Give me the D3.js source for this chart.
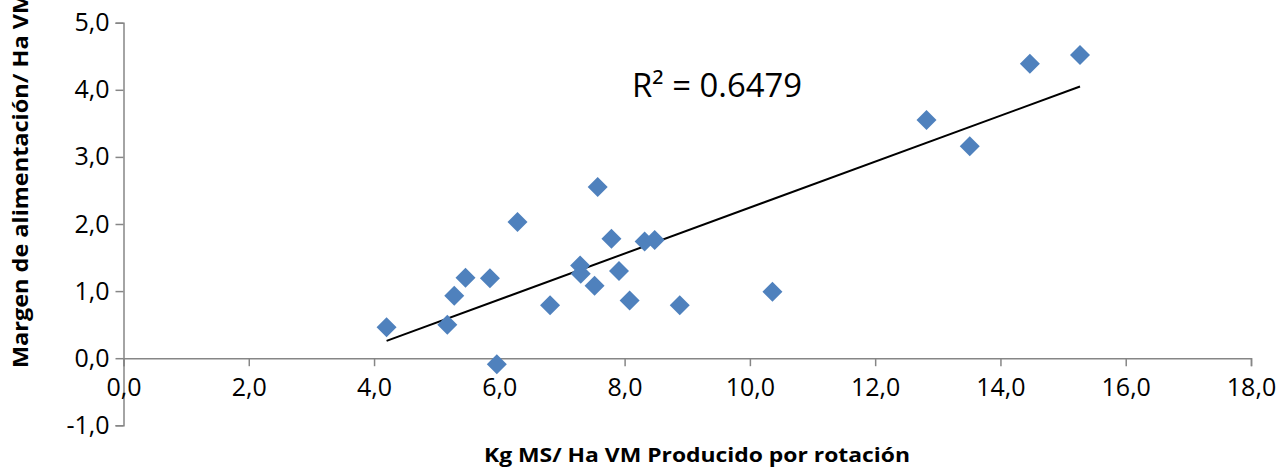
<!DOCTYPE html>
<html>
<head>
<meta charset="utf-8">
<script src="https://cdn.jsdelivr.net/npm/d3@7"></script>
<style>
  html, body { margin: 0; padding: 0; background: #fff; }
  svg { display: block; }
  .tick text { font-family: "Open Sans", "Noto Sans", sans-serif; fill: #000; }
  .title { font-family: "Open Sans", "Noto Sans", sans-serif; font-weight: bold; fill: #000; }
</style>
</head>
<body>
<svg id="chart" width="1281" height="469"></svg>
<script>
// Forage produced per rotation (Kg MS / Ha VM) vs. feeding margin
const xValues = [4.20, 5.17, 5.28, 5.46, 5.85, 6.29, 5.96, 6.81, 7.29, 7.30, 7.52, 7.57,
                 7.79, 7.91, 8.08, 8.32, 8.48, 8.88, 10.36, 12.82, 13.51, 14.47, 15.27];
const yValues = [0.46, 0.50, 0.93, 1.20, 1.19, 2.03, -0.09, 0.79, 1.38, 1.26, 1.08, 2.55,
                 1.78, 1.30, 0.86, 1.74, 1.76, 0.79, 0.99, 3.55, 3.16, 4.39, 4.52];
const xTicks = [0, 2, 4, 6, 8, 10, 12, 14, 16, 18];
const yTicks = [-1, 0, 1, 2, 3, 4, 5];
const xTitle = "Kg MS/ Ha VM Producido por rotación";
const yTitle = "Margen de alimentación/ Ha VM";
const r2Label = "R² = 0.6479";

const svg = d3.select("#chart");
const axisColor = "#868686";
const markerColor = "#4F81BD";

const x = d3.scaleLinear().domain([0, 18]).range([123.5, 1251]);
const y = d3.scaleLinear().domain([-1, 5]).range([425.3, 22.7]);

const locale = d3.formatLocale({ decimal: ",", thousands: ".", grouping: [3], currency: ["", ""], minus: "-" });
const fmt = locale.format(".1f");

// Y axis at x = 0
const gy = svg.append("g")
  .attr("transform", `translate(${x(0)},0)`)
  .call(d3.axisLeft(y).tickValues(yTicks).tickFormat(fmt).tickSizeInner(8).tickSizeOuter(8).tickPadding(6));

// X axis at y = 0
const gx = svg.append("g")
  .attr("transform", `translate(0,${y(0)})`)
  .call(d3.axisBottom(x).tickValues(xTicks).tickFormat(fmt).tickSizeInner(8).tickSizeOuter(8).tickPadding(12));

[gx, gy].forEach(g => {
  g.select(".domain").attr("stroke", axisColor).attr("stroke-width", 1.5);
  g.selectAll(".tick line").attr("stroke", axisColor).attr("stroke-width", 1.5);
  g.selectAll(".tick text").style("font-size", "25px");
});

// Linear least-squares trend line across the data range
const n = xValues.length;
const mx = d3.mean(xValues), my = d3.mean(yValues);
let sxy = 0, sxx = 0;
for (let i = 0; i < n; i++) {
  sxy += (xValues[i] - mx) * (yValues[i] - my);
  sxx += (xValues[i] - mx) ** 2;
}
const slope = sxy / sxx;
const intercept = my - slope * mx;
const xExt = d3.extent(xValues);

svg.append("line")
  .attr("x1", x(xExt[0])).attr("y1", y(intercept + slope * xExt[0]))
  .attr("x2", x(xExt[1])).attr("y2", y(intercept + slope * xExt[1]))
  .attr("stroke", "#000").attr("stroke-width", 2);

// Diamond markers
const pts = xValues.map((v, i) => [v, yValues[i]]);
svg.append("g").selectAll("path")
  .data(pts)
  .join("path")
  .attr("transform", d => `translate(${x(d[0])},${y(d[1])})`)
  .attr("d", "M0,-10L10,0L0,10L-10,0Z")
  .attr("fill", markerColor);

// R² annotation
svg.append("text")
  .attr("x", 632).attr("y", 97)
  .attr("font-family", "'Open Sans', 'Noto Sans', sans-serif")
  .attr("font-size", 32)
  .attr("textLength", 170)
  .attr("lengthAdjust", "spacingAndGlyphs")
  .attr("fill", "#000")
  .text(r2Label);

// Axis titles
svg.append("text")
  .attr("class", "title")
  .attr("x", 697).attr("y", 462)
  .attr("text-anchor", "middle")
  .attr("font-size", 20)
  .attr("textLength", 426)
  .attr("lengthAdjust", "spacingAndGlyphs")
  .text(xTitle);

svg.append("text")
  .attr("class", "title")
  .attr("transform", "translate(28,368) rotate(-90)")
  .attr("text-anchor", "start")
  .attr("font-size", 22)
  .attr("textLength", 376)
  .attr("lengthAdjust", "spacingAndGlyphs")
  .text(yTitle);
</script>
</body>
</html>
